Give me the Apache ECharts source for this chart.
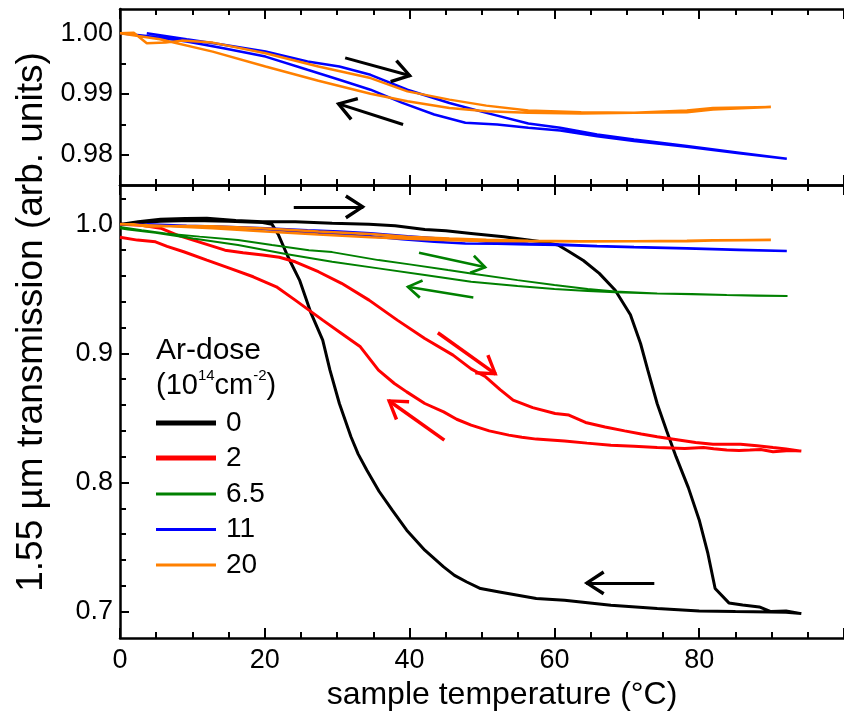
<!DOCTYPE html>
<html>
<head>
<meta charset="utf-8">
<script src="https://cdn.jsdelivr.net/npm/echarts@6/dist/echarts.min.js"></script>
<style>
  html, body { margin: 0; padding: 0; background: #fff; }
  #chart { width: 844px; height: 711px; }
</style>
</head>
<body>
<div id="chart"></div>
<script>
// ---------------- data ----------------
const doseNames = ['0', '2', '6.5', '11', '20'];

// x axis (sample temperature, °C)
const xMin = 0, xMax = 100, xStep = 20;

// tick values
const topMajorTicks = [0.98, 0.99, 1.00];
const topMinorTicks = [0.985, 0.995];
const botMajorTicks = [0.7, 0.8, 0.9, 1.0];
const botMinorTicks = [0.72, 0.74, 0.76, 0.78, 0.82, 0.84, 0.86, 0.88, 0.92, 0.94, 0.96, 0.98, 1.02];

// dose 0 (heating then cooling)
const dose0 = [
  [0, 1.000], [2.5, 1.002], [5.6, 1.004], [9, 1.0045], [12, 1.0047], [16, 1.003], [19.7, 1.002],
  [24.2, 1.002], [29.3, 1.0008], [34.4, 1.000], [38, 0.999], [42.1, 0.996], [45, 0.995], [48.5, 0.993],
  [53, 0.9904], [58.2, 0.9865], [60.5, 0.984], [62, 0.979], [64, 0.972], [66.2, 0.962], [68.4, 0.949],
  [70.5, 0.930], [71.9, 0.9077], [72.9, 0.887], [74.2, 0.861], [75.5, 0.840], [76.8, 0.820], [78.5, 0.796],
  [80, 0.771], [81.2, 0.745], [82.2, 0.7178], [84.1, 0.7067], [86, 0.705], [88.3, 0.7036], [89.9, 0.700],
  [92, 0.7005], [94.1, 0.6984],
  [92, 0.6995], [89.9, 0.6997], [85, 0.700], [80, 0.7005], [74.2, 0.7023], [67.8, 0.7049], [61.4, 0.7088],
  [57.5, 0.7101], [52.4, 0.7152], [49.8, 0.7178], [47.9, 0.7229], [46.2, 0.728], [44.7, 0.7346],
  [42.1, 0.7475], [39.6, 0.763], [37.6, 0.7785], [35.8, 0.793], [34.1, 0.8095], [32.9, 0.822],
  [31.9, 0.8354], [30.3, 0.8612], [29, 0.887], [28.0, 0.9103], [26.4, 0.931], [24.8, 0.9568],
  [23.2, 0.9749], [21.9, 0.9917], [21, 1.000], [19.7, 1.0015], [15, 1.0025], [10, 1.003], [5.6, 1.0025],
  [2, 1.001], [0, 1.000]
];

// dose 2
const dose2 = [
  [0, 1.000], [3, 0.9993], [5.6, 0.997], [8, 0.9915], [10.1, 0.9878], [14.5, 0.980], [17, 0.978],
  [19.7, 0.9762], [22, 0.9745], [24.2, 0.971], [27.4, 0.9633], [30.6, 0.9543], [34.4, 0.9413],
  [38.3, 0.9258], [42.1, 0.9116], [46, 0.8987], [48.5, 0.888], [50.5, 0.8819], [52.5, 0.872],
  [54.3, 0.8638], [57, 0.858], [60.1, 0.8535], [62, 0.8522], [64.3, 0.8465], [67, 0.843], [69.7, 0.840],
  [72, 0.8375], [74.2, 0.8354], [77.4, 0.8328], [79.5, 0.831], [81.9, 0.8297], [85.7, 0.8297],
  [88, 0.8285], [90.2, 0.8271], [92, 0.826], [94.1, 0.8243],
  [92.5, 0.8248], [90.2, 0.8238], [88.5, 0.8255], [87, 0.8251], [85.5, 0.8248], [83.8, 0.8251],
  [82, 0.8262], [80.6, 0.8271], [78, 0.8264], [74.2, 0.8271], [71, 0.828], [67.8, 0.8289], [64.5, 0.8305],
  [61.4, 0.8322], [57.5, 0.8336], [55.5, 0.835], [53.7, 0.8367], [51, 0.840], [48.5, 0.8444],
  [46.5, 0.849], [44.7, 0.8547], [42.1, 0.8612], [39.6, 0.8702], [37.9, 0.8767], [35.7, 0.887],
  [33.2, 0.9051], [30.6, 0.9155], [28, 0.9258], [24.2, 0.9413], [21.6, 0.9516], [18.4, 0.9594],
  [15.2, 0.9659], [12, 0.9723], [8.8, 0.9788], [6.5, 0.983], [4.9, 0.9865], [2.4, 0.9878], [0, 0.990]
];

// dose 6.5
const dose6p5 = [
  [0, 0.998], [3, 0.9955], [6.3, 0.993], [11, 0.9905], [16.3, 0.9878], [21, 0.984], [26.1, 0.980],
  [29.3, 0.9785], [35.7, 0.9723], [40, 0.969], [45.3, 0.9646], [48.5, 0.962], [54.9, 0.9568], [60, 0.953],
  [64.6, 0.950], [68.4, 0.948], [74.2, 0.9465], [79, 0.9458], [83.8, 0.9452], [88, 0.9448], [92.2, 0.9444],
  [88, 0.9446], [83.8, 0.9452], [79, 0.946], [74.2, 0.9465], [68.4, 0.9474], [64.6, 0.9483], [60, 0.950],
  [54.9, 0.9522], [48.5, 0.9555], [42.1, 0.9607], [35.7, 0.9659], [29.3, 0.971], [22.9, 0.977],
  [16.3, 0.984], [10.1, 0.9891], [4.9, 0.9935], [1.1, 0.996], [0, 0.997]
];

// dose 11
const dose11 = [
  [3.7, 1.0000], [9.2, 0.9990], [14.3, 0.9981], [20.1, 0.9970], [25.9, 0.99535], [30.3, 0.99453],
  [34.6, 0.99316], [39.7, 0.9907], [45.5, 0.98852], [50.6, 0.98689], [56.4, 0.98513], [60.8, 0.98443],
  [65.9, 0.98333], [71.0, 0.98251], [78.3, 0.98141], [85.5, 0.98033], [92.1, 0.97934],
  [85.5, 0.98021], [78.3, 0.98131], [71.0, 0.98223], [65.9, 0.98305], [60.8, 0.98398], [56.4, 0.98443],
  [52.1, 0.98497], [47.7, 0.98525], [43.4, 0.98661], [39.0, 0.98852], [34.6, 0.9907], [30.3, 0.99234],
  [25.9, 0.99398], [20.1, 0.99616], [14.3, 0.99754], [9.2, 0.99863], [3.7, 0.99956], [0, 1.0000]
];

// dose 20
const dose20 = [
  [0, 1.0000], [1.9, 1.0001], [3.7, 0.99836], [6.3, 0.99846], [8.5, 0.99879], [12.8, 0.99846],
  [20.1, 0.99672], [27.4, 0.99453], [34.6, 0.99262], [39.7, 0.99043], [45.5, 0.98907], [50.6, 0.98808],
  [56.4, 0.98726], [63.7, 0.98699], [71.0, 0.98689], [78.3, 0.98726], [81.9, 0.9877], [89.9, 0.98787],
  [81.9, 0.98743], [78.3, 0.98699], [71.0, 0.98689], [63.7, 0.98677], [56.4, 0.98689], [50.6, 0.98715],
  [45.5, 0.9877], [39.7, 0.98879], [34.6, 0.99005], [27.4, 0.99218], [20.1, 0.99453], [12.8, 0.99698],
  [5.5, 0.99901], [0, 1.0000]
];

// direction arrows [start, end] in data coordinates
const topArrows = [
  [[31.1, 0.99595], [40.1, 0.9930]],
  [[39.1, 0.98497], [30.1, 0.98841]]
];
const blackArrows = [
  [[24.0, 1.0136], [33.6, 1.0136]],
  [[73.8, 0.7222], [64.4, 0.7222]]
];
const greenArrows = [
  [[41.3, 0.978], [50.5, 0.9667]],
  [[48.8, 0.9434], [39.7, 0.9516]]
];
const redArrows = [
  [[43.9, 0.916], [51.9, 0.884]],
  [[44.8, 0.8328], [37.1, 0.8635]]
];

// ---------------- styles ----------------
const FONT = "'Liberation Sans', Arial, Helvetica, sans-serif";
const doseColors = { '0': '#000000', '2': '#ff0000', '6.5': '#008000', '11': '#0000ff', '20': '#ff8000' };
const doseWidths = { '0': 3, '2': 3, '6.5': 2, '11': 2.5, '20': 2.5 };

const arrowHead = 'path://M17,15 L27.5,31 L25,32.6 L17,20 L9,32.6 L6.5,31 Z M0,0 L0.01,0 L0,0.01 Z M34,34 L33.99,34 L34,33.99 Z';

function xAx(gridIndex, position, showLabel) {
  return {
    type: 'value', gridIndex, position, min: xMin, max: xMax, interval: xStep,
    axisLine: { show: true, onZero: false, lineStyle: { color: '#000', width: 2.5 } },
    axisTick: { show: true, inside: true, length: 10, lineStyle: { color: '#000', width: 2 } },
    minorTick: { show: true, splitNumber: 4, length: 6, lineStyle: { color: '#000', width: 2 } },
    splitLine: { show: false }, minorSplitLine: { show: false },
    axisLabel: { show: showLabel, showMaxLabel: false, color: '#000', fontSize: 27, fontFamily: FONT, margin: 9 }
  };
}
function yAx(gridIndex, min, max, ticks, isMajor, decimals) {
  return {
    type: 'value', gridIndex, position: 'left', min, max,
    axisLine: { show: isMajor, onZero: false, lineStyle: { color: '#000', width: 2.5 } },
    axisTick: { show: true, inside: true, length: isMajor ? 9 : 6, customValues: ticks, lineStyle: { color: '#000', width: 2 } },
    splitLine: { show: false },
    axisLabel: {
      show: isMajor, customValues: ticks, color: '#000', fontSize: 27, fontFamily: FONT, margin: 7,
      formatter: v => v.toFixed(decimals)
    }
  };
}
function curve(name, data, xi, yi) {
  return {
    type: 'line', name, data, xAxisIndex: xi, yAxisIndex: yi,
    showSymbol: false, symbol: 'none', smooth: false, animation: false, silent: true,
    color: doseColors[name], itemStyle: { color: doseColors[name] },
    lineStyle: { color: doseColors[name], width: doseWidths[name] }
  };
}
function arrows(list, color, xi, yi, size, width) {
  return {
    type: 'lines', coordinateSystem: 'cartesian2d', xAxisIndex: xi, yAxisIndex: yi,
    symbol: ['none', arrowHead], symbolSize: size, silent: true, animation: false, z: 5,
    lineStyle: { color, width, curveness: 0, opacity: 1 },
    data: list.map(a => ({ coords: a }))
  };
}

const chart = echarts.init(document.getElementById('chart'), null, { renderer: 'canvas' });
chart.setOption({
  backgroundColor: '#fff',
  animation: false,
  grid: [
    { left: 120, top: 9, width: 740, height: 176 },
    { left: 120, top: 185, width: 740, height: 453 }
  ],
  xAxis: [
    xAx(0, 'bottom', false),
    xAx(0, 'top', false),
    xAx(1, 'top', false),
    xAx(1, 'bottom', true)
  ],
  yAxis: [
    yAx(0, 0.975, 1.004, topMajorTicks, true, 2),
    yAx(0, 0.975, 1.004, topMinorTicks, false, 2),
    yAx(1, 0.6795, 1.0305, botMajorTicks, true, 1),
    yAx(1, 0.6795, 1.0305, botMinorTicks, false, 1)
  ],
  legend: [
    {
      data: ['0', '2'], orient: 'vertical', left: 156, top: 409, padding: 0,
      itemWidth: 60, itemHeight: 5, itemGap: 7, icon: 'rect', selectedMode: false,
      textStyle: { color: '#000', fontSize: 28, lineHeight: 28, fontFamily: FONT, padding: [0, 0, 0, 5] }
    },
    {
      data: ['6.5', '11', '20'], orient: 'vertical', left: 156, top: 480, padding: 0,
      itemWidth: 60, itemHeight: 3, itemGap: 7.5, icon: 'rect', selectedMode: false,
      textStyle: { color: '#000', fontSize: 28, lineHeight: 28, fontFamily: FONT, padding: [0, 0, 0, 5] }
    }
  ],
  series: [
    curve('11', dose11, 0, 0),
    curve('20', dose20, 0, 0),
    arrows(topArrows, '#000', 0, 0, 40, 3),
    curve('0', dose0, 3, 2),
    curve('2', dose2, 3, 2),
    curve('6.5', dose6p5, 3, 2),
    curve('11', dose11, 3, 2),
    curve('20', dose20, 3, 2),
    arrows(blackArrows, '#000', 3, 2, 40, 3),
    arrows(greenArrows, '#008000', 3, 2, 32, 2.5),
    arrows(redArrows, '#ff0000', 3, 2, 40, 3.5)
  ],
  graphic: [
    {
      type: 'text', x: 32, y: 322, rotation: Math.PI / 2,
      style: { text: '1.55 µm transmission (arb. units)', fontSize: 37, fontFamily: FONT, fill: '#000',
               align: 'center', verticalAlign: 'middle', textAlign: 'center', textVerticalAlign: 'middle' }
    },
    {
      type: 'text', x: 502, y: 695,
      style: { text: 'sample temperature (°C)', fontSize: 32, fontFamily: FONT, fill: '#000',
               align: 'center', verticalAlign: 'middle', textAlign: 'center', textVerticalAlign: 'middle' }
    },
    {
      type: 'text', x: 156, y: 351,
      style: { text: 'Ar-dose', fontSize: 30, fontFamily: FONT, fill: '#000',
               align: 'left', verticalAlign: 'middle', textAlign: 'left', textVerticalAlign: 'middle' }
    },
    {
      type: 'text', x: 156, y: 386,
      style: { text: '(10{sup|14}cm{sup|-2})', fontSize: 29, lineHeight: 36, fontFamily: FONT, fill: '#000',
               align: 'left', verticalAlign: 'middle', textAlign: 'left', textVerticalAlign: 'middle',
               rich: { sup: { fontSize: 15, fontFamily: FONT, fill: '#000', lineHeight: 36, verticalAlign: 'top' } } }
    }
  ]
});
</script>
</body>
</html>
